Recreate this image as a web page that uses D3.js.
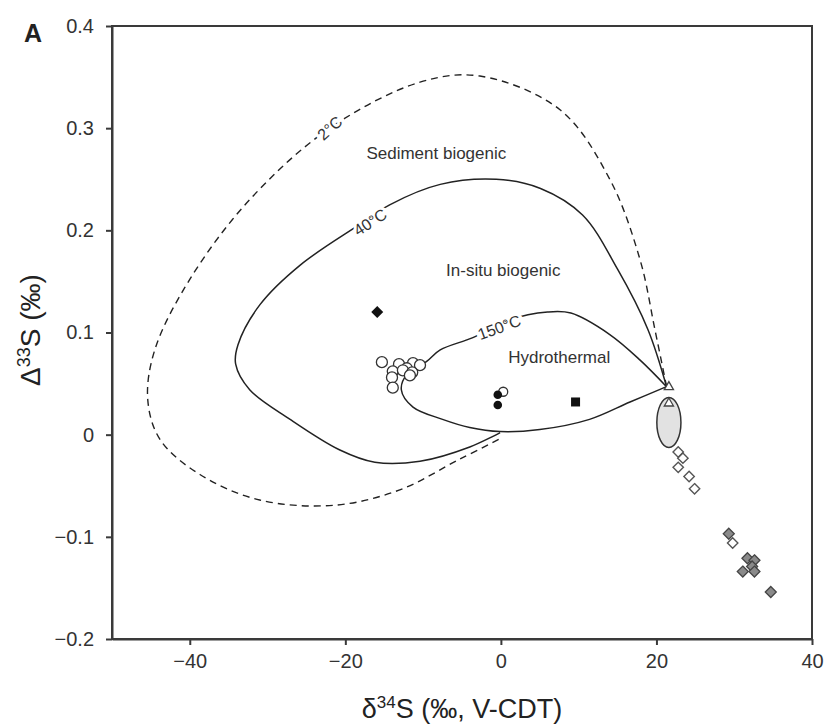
<!DOCTYPE html>
<html>
<head>
<meta charset="utf-8">
<script src="https://cdn.jsdelivr.net/npm/d3@7/dist/d3.min.js"></script>
<style>
  body { margin: 0; background: #fff; }
  svg { display: block; font-family: "Liberation Sans", Arial, sans-serif; }
</style>
</head>
<body>
<svg id="chart" width="827" height="727"></svg>
<script>
// Tick values
const xTicks = [-40, -20, 0, 20, 40];
const yTicks = [-0.2, -0.1, 0, 0.1, 0.2, 0.3, 0.4];

// Fractionation envelopes [δ34S, Δ33S]
const curve2C = [
  [21.3, 0.047], [19.8, 0.103], [17.9, 0.171], [14.0, 0.250], [7.6, 0.318],
  [-2.7, 0.351], [-10.4, 0.345], [-22.0, 0.300], [-32.3, 0.230], [-40.0, 0.152],
  [-44.5, 0.083], [-45.4, 0.034], [-43.8, -0.005], [-38.7, -0.039], [-31.0, -0.064],
  [-21.3, -0.069], [-13.0, -0.054], [-5.3, -0.024], [-0.1, -0.004]
];
const curve40C = [
  [21.3, 0.047], [18.9, 0.103], [15.0, 0.162], [10.5, 0.215], [5.1, 0.241],
  [-0.6, 0.250], [-7.8, 0.245], [-14.3, 0.225], [-18.1, 0.206], [-25.8, 0.166],
  [-31.0, 0.127], [-33.8, 0.088], [-34.1, 0.069], [-32.3, 0.044], [-27.1, 0.015],
  [-20.7, -0.015], [-16.2, -0.027], [-10.4, -0.026], [-4.0, -0.012], [-0.1, 0.002]
];
const curve150C = [
  [21.3, 0.047], [17.9, 0.073], [14.0, 0.098], [9.0, 0.119], [6.0, 0.120],
  [1.0, 0.112], [-3.6, 0.095], [-7.8, 0.083], [-9.5, 0.072], [-12.0, 0.060],
  [-12.8, 0.044], [-11.3, 0.027], [-7.5, 0.015], [-4.0, 0.007], [-0.1, 0.003],
  [5.0, 0.005], [11.4, 0.015], [16.6, 0.032], [21.3, 0.047]
];

// Sample groups [δ34S, Δ33S]
const openCircles = [
  [-15.3, 0.071], [-13.1, 0.069], [-11.3, 0.070], [-10.4, 0.068], [-12.1, 0.065],
  [-13.9, 0.062], [-12.6, 0.063], [-11.4, 0.061], [-14.0, 0.056], [-11.7, 0.058],
  [-13.9, 0.046]
];
const halfCircle = [[0.3, 0.042]];
const blackCircles = [[-0.4, 0.039], [-0.4, 0.029]];
const blackDiamond = [[-15.9, 0.120]];
const blackSquare = [[9.6, 0.032]];
const openTriangles = [[21.6, 0.047], [21.6, 0.031]];
const sulfateEllipse = { x: 21.6, y: 0.012, rx: 1.55, ry: 0.0245 };
const openDiamonds = [[22.8, -0.017], [23.4, -0.023], [22.8, -0.032], [24.2, -0.041], [24.9, -0.053], [29.8, -0.106]];
const grayDiamonds = [[29.3, -0.097], [31.7, -0.121], [32.6, -0.123], [32.3, -0.129], [31.1, -0.134], [32.6, -0.134], [34.7, -0.154]];

const svg = d3.select("#chart");
const x = d3.scaleLinear().domain([-50, 40]).range([112, 812]);
const y = d3.scaleLinear().domain([-0.2, 0.4]).range([639, 26]);
const axisColor = "#3a3a3a";

// Plot frame
svg.append("rect")
  .attr("x", x(-50)).attr("y", y(0.4))
  .attr("width", x(40) - x(-50)).attr("height", y(-0.2) - y(0.4))
  .attr("fill", "none").attr("stroke", axisColor).attr("stroke-width", 2);

const fmtY = d => d === 0 ? "0" : d3.format(".1f")(d);
const gx = svg.append("g").attr("transform", `translate(0,${y(-0.2)})`)
  .call(d3.axisBottom(x).tickValues(xTicks).tickSize(6).tickPadding(9).tickSizeOuter(0));
const gy = svg.append("g").attr("transform", `translate(${x(-50)},0)`)
  .call(d3.axisLeft(y).tickValues(yTicks).tickFormat(fmtY).tickSize(6).tickPadding(12).tickSizeOuter(0));
[gx, gy].forEach(g => {
  g.select(".domain").attr("stroke", axisColor).attr("stroke-width", 2);
  g.selectAll(".tick line").attr("stroke", axisColor).attr("stroke-width", 2);
  g.selectAll(".tick text").attr("fill", "#333").attr("font-size", 20)
    .attr("font-family", "Liberation Sans, Arial, sans-serif");
});

// Axis titles
const xt = svg.append("text").attr("x", 462).attr("y", 718).attr("text-anchor", "middle")
  .attr("font-size", 27).attr("fill", "#222");
xt.append("tspan").text("δ");
xt.append("tspan").attr("font-size", 17).attr("dy", -10).text("34");
xt.append("tspan").attr("dy", 10).text("S (‰, V-CDT)");

const yt = svg.append("text").attr("transform", "translate(40,330) rotate(-90)")
  .attr("text-anchor", "middle").attr("font-size", 28).attr("fill", "#222");
yt.append("tspan").text("Δ");
yt.append("tspan").attr("font-size", 18).attr("dy", -10).text("33");
yt.append("tspan").attr("dy", 10).text("S (‰)");

svg.append("text").attr("x", 24).attr("y", 42).attr("font-size", 25)
  .attr("font-weight", "bold").attr("fill", "#222").text("A");

// Envelopes
const line = d3.line().x(d => x(d[0])).y(d => y(d[1])).curve(d3.curveCatmullRom.alpha(0.5));
svg.append("path").datum(curve2C).attr("d", line).attr("fill", "none")
  .attr("stroke", "#222").attr("stroke-width", 1.4).attr("stroke-dasharray", "7,5");
svg.append("path").datum(curve40C).attr("d", line).attr("fill", "none")
  .attr("stroke", "#222").attr("stroke-width", 1.5);
svg.append("path").datum(curve150C).attr("d", line).attr("fill", "none")
  .attr("stroke", "#222").attr("stroke-width", 1.5);

// Curve labels with a white halo so the line breaks around them
const curveLabels = [
  { t: "2°C", x: -22.0, y: 0.300, a: -42 },
  { t: "40°C", x: -16.8, y: 0.208, a: -33 },
  { t: "150°C", x: -0.2, y: 0.105, a: -20 }
];
svg.selectAll("text.clabel").data(curveLabels).join("text")
  .attr("class", "clabel")
  .attr("transform", d => `translate(${x(d.x)},${y(d.y)}) rotate(${d.a})`)
  .attr("text-anchor", "middle").attr("dy", "0.35em")
  .attr("font-size", 16).attr("fill", "#333")
  .attr("stroke", "#fff").attr("stroke-width", 6).attr("paint-order", "stroke")
  .text(d => d.t);

const regionLabels = [
  { t: "Sediment biogenic", x: -8.3, y: 0.276 },
  { t: "In-situ biogenic", x: 0.3, y: 0.161 },
  { t: "Hydrothermal", x: 7.5, y: 0.076 }
];
svg.selectAll("text.rlabel").data(regionLabels).join("text")
  .attr("class", "rlabel")
  .attr("x", d => x(d.x)).attr("y", d => y(d.y))
  .attr("text-anchor", "middle").attr("dy", "0.35em")
  .attr("font-size", 17).attr("fill", "#333")
  .text(d => d.t);

// Marker helpers
const diamondPath = h => `M0,${-h}L${h},0L0,${h}L${-h},0Z`;
const pos = d => `translate(${x(d[0])},${y(d[1])})`;

// Seawater sulfate field
svg.append("ellipse")
  .attr("cx", x(sulfateEllipse.x)).attr("cy", y(sulfateEllipse.y))
  .attr("rx", x(sulfateEllipse.x + sulfateEllipse.rx) - x(sulfateEllipse.x))
  .attr("ry", y(sulfateEllipse.y) - y(sulfateEllipse.y + sulfateEllipse.ry))
  .attr("fill", "#e2e2e2").attr("stroke", "#333").attr("stroke-width", 1.5);

svg.selectAll("path.tri").data(openTriangles).join("path").attr("class", "tri")
  .attr("transform", pos).attr("d", "M0,-5L4.6,3L-4.6,3Z")
  .attr("fill", "#fff").attr("stroke", "#444").attr("stroke-width", 1.3);

svg.selectAll("circle.open").data(openCircles).join("circle").attr("class", "open")
  .attr("cx", d => x(d[0])).attr("cy", d => y(d[1])).attr("r", 5.5)
  .attr("fill", "#fff").attr("stroke", "#333").attr("stroke-width", 1.3);

svg.selectAll("circle.half").data(halfCircle).join("circle").attr("class", "half")
  .attr("cx", d => x(d[0])).attr("cy", d => y(d[1])).attr("r", 4.5)
  .attr("fill", "#fff").attr("stroke", "#333").attr("stroke-width", 1.3);

svg.selectAll("circle.black").data(blackCircles).join("circle").attr("class", "black")
  .attr("cx", d => x(d[0])).attr("cy", d => y(d[1])).attr("r", 4.3)
  .attr("fill", "#111");

svg.selectAll("path.bdiam").data(blackDiamond).join("path").attr("class", "bdiam")
  .attr("transform", pos).attr("d", diamondPath(6)).attr("fill", "#111");

svg.selectAll("rect.bsq").data(blackSquare).join("rect").attr("class", "bsq")
  .attr("x", d => x(d[0]) - 4.5).attr("y", d => y(d[1]) - 4.5)
  .attr("width", 9).attr("height", 9).attr("fill", "#111");

svg.selectAll("path.gdiam").data(grayDiamonds).join("path").attr("class", "gdiam")
  .attr("transform", pos).attr("d", diamondPath(5.5))
  .attr("fill", "#8a8a8a").attr("stroke", "#444").attr("stroke-width", 1.3);

svg.selectAll("path.odiam").data(openDiamonds).join("path").attr("class", "odiam")
  .attr("transform", pos).attr("d", diamondPath(5.2))
  .attr("fill", "#fff").attr("stroke", "#555").attr("stroke-width", 1.4);
</script>
</body>
</html>
